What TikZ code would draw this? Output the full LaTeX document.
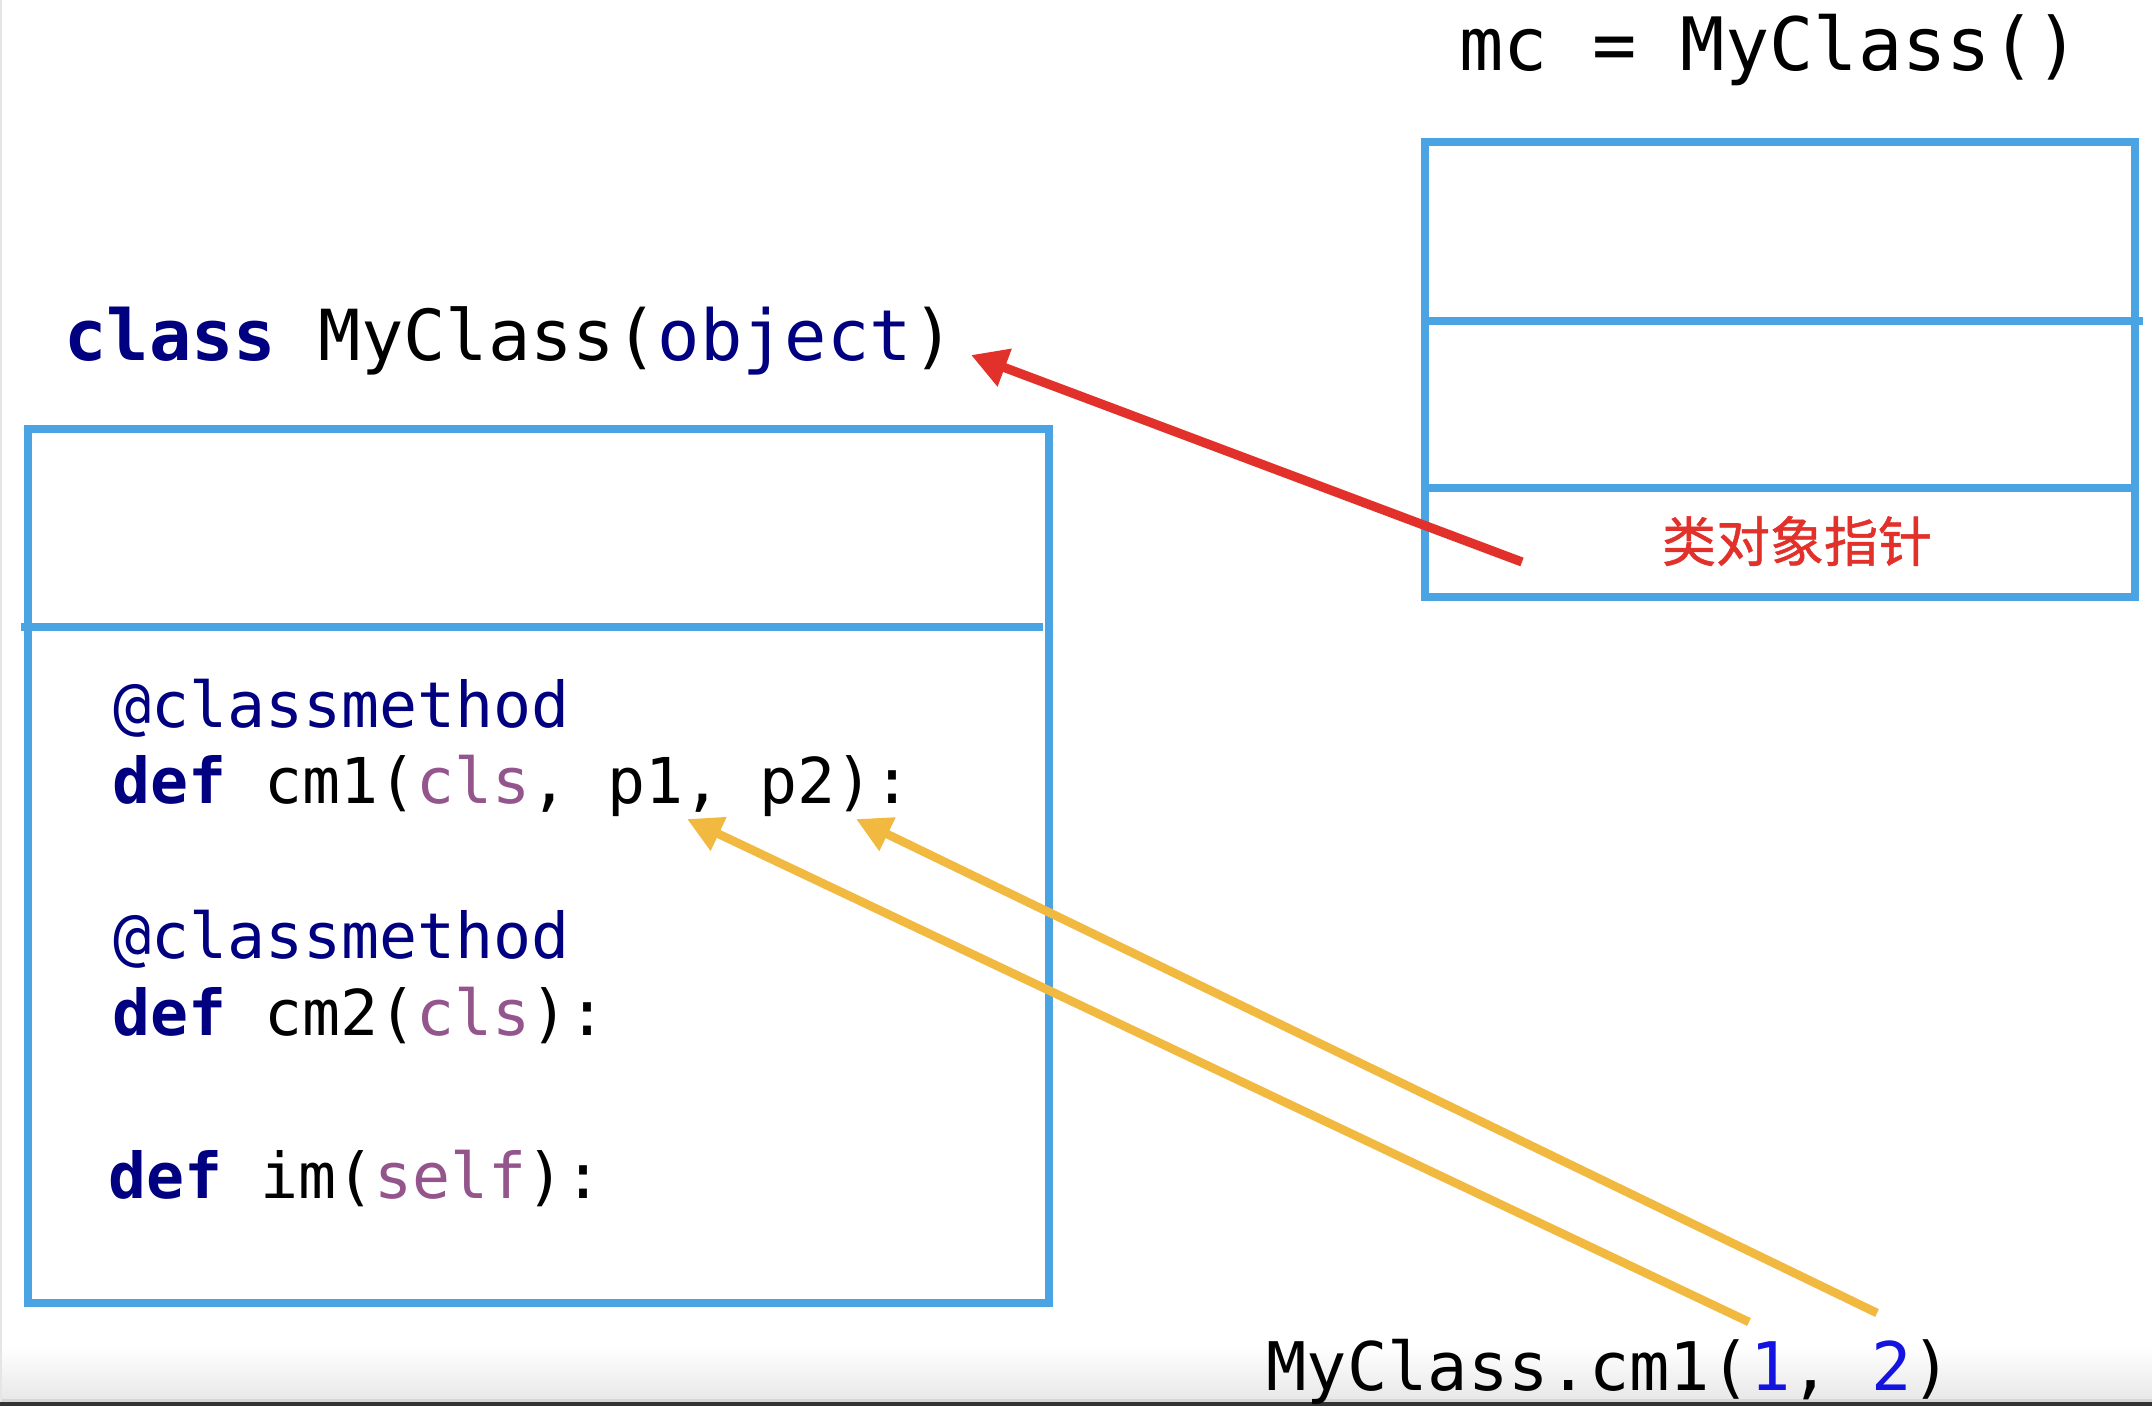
\documentclass[tikz,border=0pt]{standalone}
\usepackage{fontspec}
\setmonofont{DejaVu Sans Mono}
\newfontfamily\cjkfont[FakeBold=1]{Noto Sans CJK SC}
\usetikzlibrary{arrows.meta}
\definecolor{boxblue}{HTML}{4AA3E2}
\definecolor{ptrred}{HTML}{E2302A}
\definecolor{argyellow}{HTML}{F1B940}
\definecolor{pynavy}{HTML}{000080}
\definecolor{pypurple}{HTML}{94558D}
\definecolor{pyblue}{HTML}{1414E0}
\newcommand\pykw[1]{{\bfseries\color{pynavy}#1}}
\newcommand\pydeco[1]{{\color{pynavy}#1}}
\newcommand\pyself[1]{{\color{pypurple}#1}}
\newcommand\pynum[1]{{\color{pyblue}#1}}
\begin{document}
\begin{tikzpicture}[x=0.5pt,y=-0.5pt,
  boxline/.style={draw=boxblue, line width=4.4pt},
  membox/.style={boxline, rectangle, anchor=north west, inner sep=0pt, outer sep=0pt},
  codetext/.style={font=\ttfamily\fontsize{31.6pt}{36pt}\selectfont, anchor=base west, inner sep=0pt, text=black},
  titletext/.style={font=\ttfamily\fontsize{35.2pt}{40pt}\selectfont, anchor=base west, inner sep=0pt, text=black},
  objtext/.style={font=\ttfamily\fontsize{36.8pt}{42pt}\selectfont, anchor=base west, inner sep=0pt, text=black},
  calltext/.style={font=\ttfamily\fontsize{33.5pt}{40pt}\selectfont, anchor=base west, inner sep=0pt, text=black},
  ptrtext/.style={font=\cjkfont\fontsize{27pt}{32pt}\selectfont, text=ptrred, inner sep=0pt},
  ptrarrow/.style={draw=ptrred, line width=4.6pt, -{Triangle[length=18pt,width=19pt]}},
  argarrow/.style={draw=argyellow, line width=4.3pt, -{Triangle[length=17.5pt,width=17.5pt]}}
]
\useasboundingbox (0,0) rectangle (2152,1406);
\fill[white] (0,0) rectangle (2152,1406);
% bottom band of the screenshot
\shade[top color=white, bottom color=black!9] (0,1346) rectangle (2152,1399);
\fill[black!16] (0,1399) rectangle (2152,1402);
\fill[black!80] (0,1402) rectangle (2152,1406);
\fill[black!10] (0,0) rectangle (1.5,1402);

% class box
\node[membox, minimum width=510.5pt, minimum height=437pt] (classbox) at (28,429) {};
\draw[boxline] (21,627) -- (1043,627);

% instance box
\node[membox, minimum width=355pt, minimum height=227.5pt] (objbox) at (1425,142) {};
\draw[boxline] (1425,321) -- (2143,321);
\draw[boxline] (1425,488) -- (2135,488);

% texts
\node[titletext] (title) at (64,361) {\pykw{class} MyClass(\pydeco{object})};
\node[objtext] (objcode) at (1459,71) {mc = MyClass()};
\node[codetext] (deco1) at (113,727) {\pydeco{@classmethod}};
\node[codetext] (cm1) at (112,803) {\pykw{def} cm1(\pyself{cls}, p1, p2):};
\node[codetext] (deco2) at (113,958) {\pydeco{@classmethod}};
\node[codetext] (cm2) at (112,1035) {\pykw{def} cm2(\pyself{cls}):};
\node[codetext] (im) at (108,1198) {\pykw{def} im(\pyself{self}):};
\node[calltext] (call) at (1266,1390) {MyClass.cm1(\pynum{1}, \pynum{2})};
\node[ptrtext] (ptr) at (1797,541) {类对象指针};

% connectors
\coordinate (redstart) at (1522,562);
\coordinate (redtip) at (971,355);
\coordinate (ystartA) at (1749,1322);
\coordinate (ytipA) at (687,819);
\coordinate (ystartB) at (1877,1313);
\coordinate (ytipB) at (856,819);
\draw[ptrarrow] (redstart) -- (redtip);
\draw[argarrow] (ystartA) -- (ytipA);
\draw[argarrow] (ystartB) -- (ytipB);
\end{tikzpicture}
\end{document}
